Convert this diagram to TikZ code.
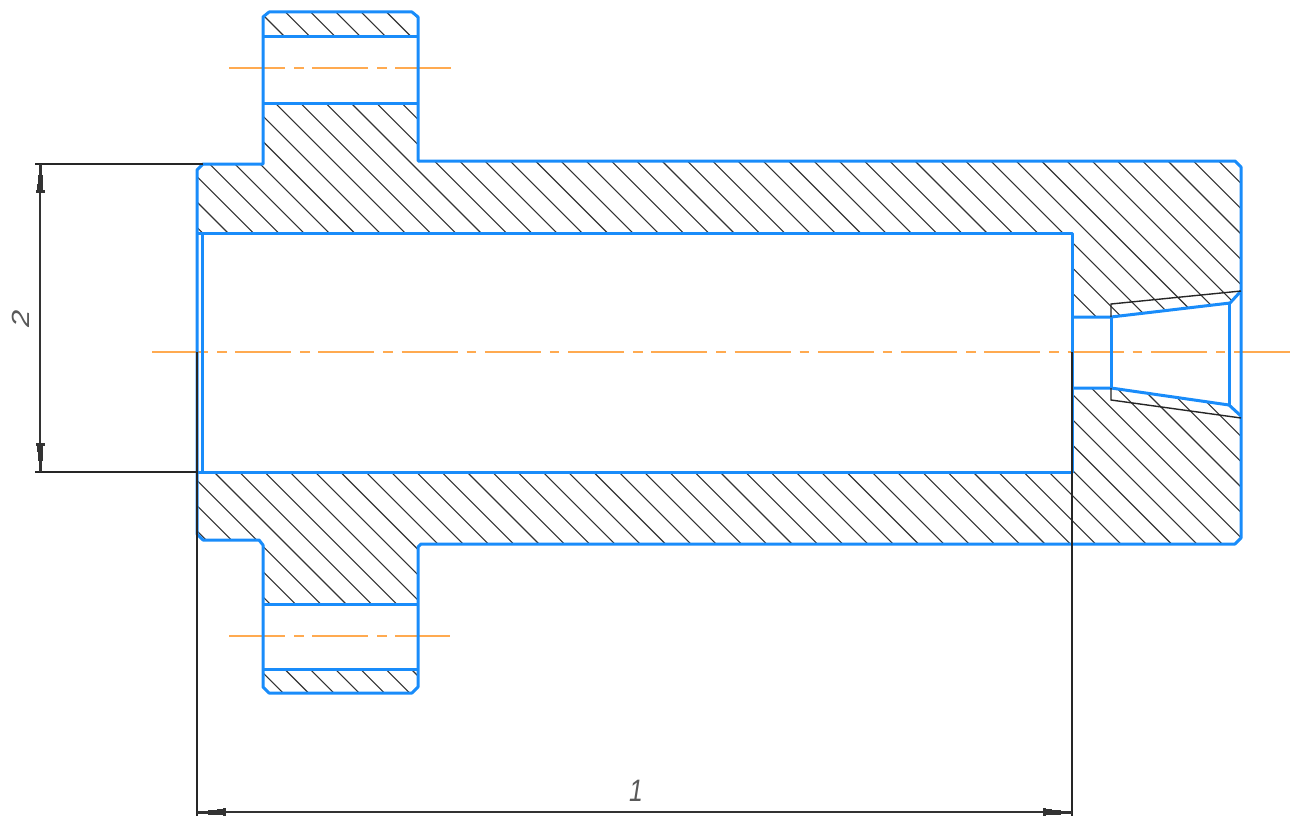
\documentclass[tikz,border=0pt]{standalone}
\usepackage{tikz}
\usepackage{fontspec}
\setsansfont{Liberation Sans}
\usetikzlibrary{arrows.meta}
\definecolor{contourblue}{RGB}{25,140,250}
\definecolor{axisorange}{RGB}{255,170,80}
\tikzset{
    contour/.style={draw=contourblue,line width=3pt,line join=round},
    hatchline/.style={black!80,line width=1.1pt},
    thinline/.style={black!85,line width=1.4pt},
    axisline/.style={axisorange,line width=2pt,dash pattern=on 56pt off 9pt on 9.5pt off 8.73pt},
    dimline/.style={black!80,line width=1.6pt,{Rectangle[width=3pt,length=11pt,sep=0pt] Rectangle[width=5pt,length=9pt,sep=0pt] Rectangle[width=6.5pt,length=6pt,sep=0pt] Rectangle[width=9pt,length=3pt,sep=0pt]}-{Rectangle[width=9pt,length=3pt,sep=0pt] Rectangle[width=6.5pt,length=6pt,sep=0pt] Rectangle[width=5pt,length=9pt,sep=0pt] Rectangle[width=3pt,length=11pt,sep=0pt]}},
    dimtext/.style={inner sep=0pt,text=black!65,xscale=0.8,font=\fontsize{31}{31}\sffamily\itshape}
}
\begin{document}
\begin{tikzpicture}[x=1pt,y=-1pt]
        \useasboundingbox (0,0) rectangle (1298,816);

        \coordinate (a1) at (152,352);
        \coordinate (a2) at (1290,352);
        \coordinate (u1) at (229,68);
        \coordinate (u2) at (451,68);
        \coordinate (d1) at (229,636);
        \coordinate (d2) at (450,636);

        \coordinate (h1) at (40,164);
        \coordinate (h2) at (40,472);
        \coordinate (h3) at (35,164);
        \coordinate (h4) at (35,472);
        \coordinate (h5) at (203,164);
        \coordinate (h6) at (197,472);

        \coordinate (w1) at (197,812);
        \coordinate (w2) at (1072,812);
        \coordinate (w3) at (197,352);
        \coordinate (w4) at (1072,352);
        \coordinate (w5) at (197,816);
        \coordinate (w6) at (1072,816);

        \begin{scope}
            \clip (263,37) -- (263,17) -- (269,12) -- (412,12) -- (418,17) -- (418,37) -- cycle
                (263,103) -- (418,103) -- (418,161) -- (1235,161) -- (1241,167) -- (1241,291) -- (1230,303) -- (1111,317) -- (1072,317) -- (1072,233) -- (197,233) -- (197,170) -- (203,164) -- (263,164) -- cycle
                (197,472) -- (1072,472) -- (1072,388) -- (1111,388) -- (1229,405) -- (1241,416) -- (1241,538) -- (1235,544) -- (418,544) -- (418,604) -- (263,604) -- (263,545) -- (258,540) -- (203,540) -- (197,534) -- cycle
                (263,669) -- (418,669) -- (418,687) -- (412,693) -- (269,693) -- (263,687) -- cycle;
            \foreach \k in {-32,...,50}
                \draw[hatchline] ({-5+25.3*\k},0) -- ({-5+25.3*\k+816},816);
        \end{scope}

        \draw[axisline] (a1) -- (a2);
        \draw[axisline] (u1) -- (u2);
        \draw[axisline] (d1) -- (d2);

        \draw[contour] (263,164) -- (263,17) -- (269,12) -- (412,12) -- (418,17) -- (418,161) -- (1235,161) -- (1241,167) -- (1241,538) -- (1235,544) -- (421,544) -- (418,547) -- (418,687) -- (412,693) -- (269,693) -- (263,687) -- (263,545) -- (259,540) -- (203,540) -- (197,534) -- (197,170) -- (203,164) -- cycle;
        \draw[contour] (197,233) -- (1072,233) -- (1072,472) -- (197,472);
        \draw[contour] (202,233) -- (202,472);
        \draw[contour] (263,37) -- (418,37);
        \draw[contour] (263,103) -- (418,103);
        \draw[contour] (263,604) -- (418,604);
        \draw[contour] (263,669) -- (418,669);
        \draw[contour] (1072,317) -- (1111,317) -- (1230,303) -- (1241,291);
        \draw[contour] (1072,388) -- (1111,388) -- (1229,405) -- (1241,416);
        \draw[contour] (1111,317) -- (1111,388);
        \draw[contour] (1229,304) -- (1229,405);

        \draw[thinline] (1111,317) -- (1111,304) -- (1241,291);
        \draw[thinline] (1111,388) -- (1111,400) -- (1241,418);

        \draw[thinline] (h3) -- (h5);
        \draw[thinline] (h4) -- (h6);
        \draw[thinline] (w3) -- (w5);
        \draw[thinline] (w4) -- (w6);
        \draw[dimline] (h1) -- (h2);
        \draw[dimline] (w1) -- (w2);

        \node[dimtext,rotate=90] (dimh) at (21,319) {2};
        \node[dimtext] (dimw) at (636,791) {1};
\end{tikzpicture}
\end{document}
